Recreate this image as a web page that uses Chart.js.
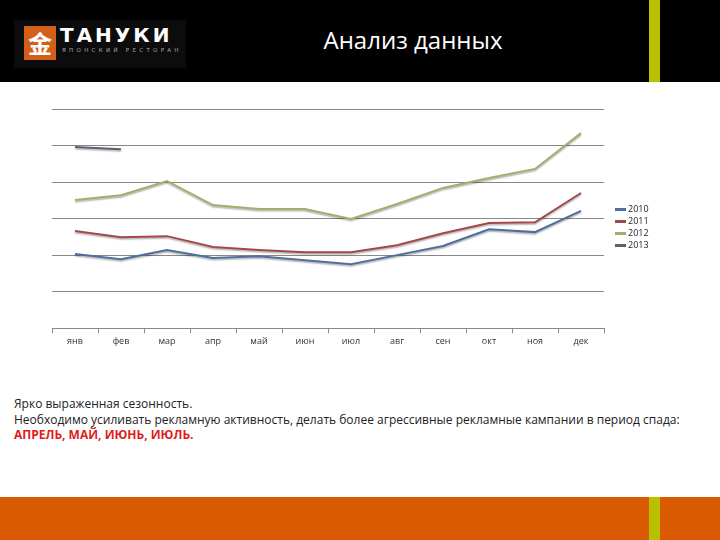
<!DOCTYPE html>
<html>
<head>
<meta charset="utf-8">
<script src="https://cdn.jsdelivr.net/npm/chart.js@4"></script>
<style>
  body{margin:0;width:720px;height:540px;position:relative;background:#fff;font-family:"Open Sans",sans-serif;overflow:hidden}
  #head{position:absolute;left:0;top:0;width:720px;height:82px;background:#000}
  #foot{position:absolute;left:0;top:497px;width:720px;height:43px;background:#d95a00}
  .vbar{position:absolute;left:649px;width:11px;background:#b8c000}
  #logo{position:absolute;left:14px;top:20px;width:172px;height:48px;background:#0c0c0c}
  #logosq{position:absolute;left:24px;top:26px;width:32px;height:34px;background:#d2601a;color:#fff;font:bold 24px "Noto Sans CJK SC";text-align:center;line-height:34px}
  #brand{position:absolute;left:60px;top:23px;color:#fff;font:bold 20px "DejaVu Sans";letter-spacing:3px}
  #sub{position:absolute;left:62px;top:47px;color:#aaa;font:5.5px "DejaVu Sans";letter-spacing:3.3px}
  #title{position:absolute;left:0;width:826px;top:23px;text-align:center;color:#fff;font:24px "Open Sans"}
  #wrap{position:absolute;left:40px;top:100px;width:580px;height:250px}
  #legend{position:absolute;left:615px;top:203px;font:9px "Open Sans";color:#222}
  #legend div{height:12px;line-height:12px;white-space:nowrap}
  #legend span{display:inline-block;width:11px;height:3px;vertical-align:middle;margin-right:2px}
  #notes{position:absolute;left:14px;top:396px;font:12px "Open Sans";color:#222;line-height:15.5px}
  #notes b{color:#e01b1b}
</style>
</head>
<body>
<div id="head"></div>
<div class="vbar" style="top:0;height:82px"></div>
<div id="foot"></div>
<div class="vbar" style="top:497px;height:43px"></div>
<div id="logo"></div>
<div id="logosq">金</div>
<div id="brand">ТАНУКИ</div>
<div id="sub">ЯПОНСКИЙ РЕСТОРАН</div>
<div id="title">Анализ данных</div>
<div id="wrap"><canvas id="chart"></canvas></div>
<div id="legend"></div>
<div id="notes">Ярко выраженная сезонность.<br>Необходимо усиливать рекламную активность, делать более агрессивные рекламные кампании в период спада:<br><b>АПРЕЛЬ, МАЙ, ИЮНЬ, ИЮЛЬ.</b></div>
<script>
const months = ["янв","фев","мар","апр","май","июн","июл","авг","сен","окт","ноя","дек"];
const years = ["2010","2011","2012","2013"];
const s2010 = [2.03,1.89,2.14,1.92,1.97,1.86,1.75,2.0,2.25,2.71,2.63,3.21];
const s2011 = [2.66,2.49,2.52,2.22,2.14,2.08,2.08,2.27,2.60,2.88,2.90,3.70];
const s2012 = [3.51,3.64,4.03,3.37,3.26,3.26,2.99,3.40,3.84,4.11,4.36,5.34];
const s2013 = [4.96,4.90,null,null,null,null,null,null,null,null,null,null];
const colors = ["#4e6e9e","#a4474a","#a0b06a","#5e5e6e"];

const series = [s2010,s2011,s2012,s2013];
const datasets = series.map((d,i) => ({
    label: years[i],
    data: d,
    borderColor: colors[i],
    borderWidth: 2,
    pointRadius: 0,
    tension: 0,
    spanGaps: false
}));

const shadow = {
    id: 'shadow',
    beforeDatasetsDraw(c){ c.ctx.save(); c.ctx.shadowColor='rgba(0,0,0,0.3)'; c.ctx.shadowOffsetY=1.5; c.ctx.shadowBlur=1.5; },
    afterDatasetsDraw(c){ c.ctx.restore(); }
};

const chart = new Chart(document.getElementById("chart"), {
    type: 'line',
    data: { labels: months, datasets: datasets },
    plugins: [shadow],
    options: {
        responsive: true,
        maintainAspectRatio: false,
        animation: false,
        layout: { padding: { left: 12, right: 16, top: 9, bottom: 0 } },
        plugins: { legend: { display: false }, tooltip: { enabled: false } },
        scales: {
            x: {
                offset: true,
                grid: { drawOnChartArea: false, drawTicks: true, tickLength: 5, offset: true, color: '#888' },
                border: { color: '#888', width: 1 },
                ticks: { color: '#333', font: { family: 'Open Sans', size: 9 }, padding: 3, maxRotation: 0 }
            },
            y: {
                min: 0, max: 6,
                ticks: { display: false, stepSize: 1 },
                grid: { color: '#888', drawTicks: false },
                border: { display: false }
            }
        }
    }
});

const leg = document.getElementById("legend");
years.forEach((y,i) => {
    const row = document.createElement("div");
    row.innerHTML = '<span style="background:' + colors[i] + '"></span>' + y;
    leg.appendChild(row);
});
</script>
</body>
</html>
